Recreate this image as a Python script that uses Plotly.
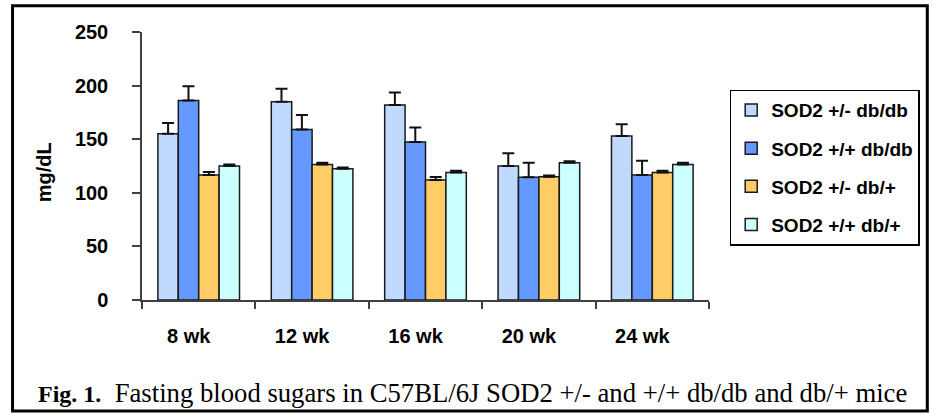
import plotly.graph_objects as go

categories = ["8 wk", "12 wk", "16 wk", "20 wk", "24 wk"]
series_names = ["SOD2 +/- db/db", "SOD2 +/+ db/db", "SOD2 +/- db/+", "SOD2 +/+ db/+"]
het_dbdb = [155, 185, 182, 125, 153]
het_dbdb_err = [10, 12, 11.5, 12, 11]
wt_dbdb = [186, 159, 147.5, 114.5, 116.5]
wt_dbdb_err = [13.5, 13.5, 13.5, 13.5, 13.3]
het_dbp = [116.5, 126.5, 112, 115, 119]
het_dbp_err = [3, 1.5, 2.8, 1.2, 1.5]
wt_dbp = [125, 122.5, 119, 128, 126.5]
wt_dbp_err = [1.5, 1, 1.5, 1.5, 1.5]
y_ticks = [0, 50, 100, 150, 200, 250]
y_title = "mg/dL"
caption = ("<span style='font-size:24px'><b>Fig. 1.</b></span>&nbsp; "
           "Fasting blood sugars in C57BL/6J SOD2 +/- and +/+ db/db and db/+ mice")

colors = ["#C0D9FF", "#6699FF", "#FFCC66", "#CCFFFF"]
values = [het_dbdb, wt_dbdb, het_dbp, wt_dbp]
errors = [het_dbdb_err, wt_dbdb_err, het_dbp_err, wt_dbp_err]

SANS = "Liberation Sans, Arial, sans-serif"
SERIF = "Liberation Serif, Times New Roman, serif"

fig = go.Figure()
for name, vals, errs, col in zip(series_names, values, errors, colors):
    fig.add_trace(go.Bar(
        x=categories, y=vals, name=name, legendgroup=name,
        marker=dict(color=col, line=dict(color="#1a1a1a", width=1.5)),
        error_y=dict(type="data", array=errs, arrayminus=[0] * len(errs),
                     symmetric=False, color="#111111", thickness=2, width=6),
    ))

fig.update_layout(
    width=932, height=415,
    margin=dict(l=142, r=214, t=32, b=115),
    paper_bgcolor="white", plot_bgcolor="white",
    barmode="group", bargap=0.28, bargroupgap=0,
    showlegend=True,
    legend=dict(x=1.0365, y=0.785, xanchor="left", yanchor="top",
                bgcolor="white", bordercolor="black", borderwidth=1.5,
                font=dict(family=SANS, size=19, color="black", weight="bold"),
                tracegroupgap=10.5, itemwidth=30),
    font=dict(family=SANS, color="black"),
)
fig.update_yaxes(range=[0, 250], tickvals=y_ticks, showgrid=False, zeroline=False,
                 showline=True, linecolor="#404040", linewidth=1.5,
                 ticks="outside", ticklen=8, tickwidth=1.5, tickcolor="#404040",
                 ticklabelstandoff=20,
                 tickfont=dict(family=SANS, size=20, color="black", weight="bold"))
fig.update_xaxes(showgrid=False, showline=True, linecolor="#404040", linewidth=1.5,
                 ticks="outside", tickson="boundaries", ticklen=7, tickwidth=1.5,
                 tickcolor="#404040", ticklabelstandoff=17, ticklabelshift=-10,
                 tickfont=dict(family=SANS, size=20, color="black", weight="bold"))

fig.add_annotation(text=y_title, xref="paper", yref="paper", x=-0.1714, y=0.476,
                   textangle=-90, showarrow=False, xanchor="center", yanchor="middle",
                   font=dict(family=SANS, size=20, color="black", weight="bold"))
fig.add_annotation(text=caption, xref="paper", yref="paper", x=-0.1875, y=-0.347,
                   showarrow=False, xanchor="left", yanchor="middle",
                   font=dict(family=SERIF, size=26.7, color="black"))
fig.add_shape(type="rect", xref="paper", yref="paper",
              x0=-0.2283, x1=1.385, y0=-0.414, y1=1.098,
              line=dict(color="black", width=3))

fig.write_html("out.html")
